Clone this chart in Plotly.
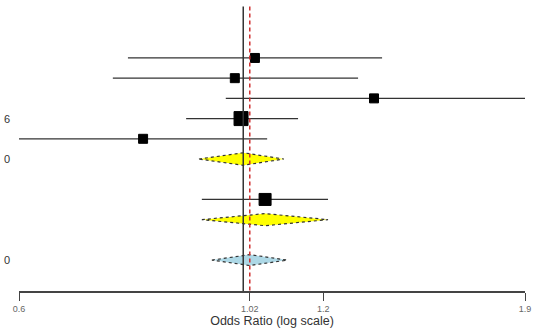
import plotly.graph_objects as go
import math

# Study rows (row index from top)
study_rows = [1, 2, 3, 4, 5, 8]
study_est = [1.027, 0.981, 1.347, 0.995, 0.796, 1.051]
study_lo = [0.769, 0.743, 0.961, 0.878, 0.600, 0.910]
study_hi = [1.372, 1.299, 1.900, 1.133, 1.056, 1.213]
study_size = [9, 9, 9, 14, 9, 12]

# Pooled diamonds
pooled_rows = [6, 9, 11]
pooled_est = [1.000, 1.051, 1.015]
pooled_lo = [0.904, 0.910, 0.931]
pooled_hi = [1.097, 1.213, 1.105]
pooled_half = [0.31, 0.3, 0.27]
pooled_color = ["#FFFF00", "#FFFF00", "#ADD8E6"]

null_value = 1.0
overall_value = 1.015

tick_vals = [0.6, 1.015, 1.2, 1.9]
tick_text = ["0.6", "1.02", "1.2", "1.9"]

left_label_rows = [4, 6, 11]
left_label_text = ["6", "0", "0"]

fig = go.Figure()

# Reference lines
fig.add_shape(type="line", xref="x", yref="y", x0=null_value, x1=null_value,
              y0=-1.55, y1=12.53, line=dict(color="#333333", width=1.5))
fig.add_shape(type="line", xref="x", yref="y", x0=overall_value, x1=overall_value,
              y0=-1.55, y1=12.53, line=dict(color="#D03030", width=1.5, dash="4px,3px"))

# CI lines
cx, cy = [], []
for r, lo, hi in zip(study_rows, study_lo, study_hi):
    cx += [lo, hi, None]
    cy += [r, r, None]
fig.add_trace(go.Scatter(x=cx, y=cy, mode="lines", line=dict(color="#333333", width=1.3),
                         hoverinfo="skip", showlegend=False, cliponaxis=False))

# Squares
fig.add_trace(go.Scatter(x=study_est, y=study_rows, mode="markers",
                         marker=dict(symbol="square", size=study_size, color="#000000",
                                     opacity=1, line=dict(width=1, color="#000000")),
                         showlegend=False, cliponaxis=False))

# Diamonds
for r, e, lo, hi, h, c in zip(pooled_rows, pooled_est, pooled_lo, pooled_hi, pooled_half, pooled_color):
    fig.add_trace(go.Scatter(x=[lo, e, hi, e, lo], y=[r, r - h, r, r + h, r],
                             mode="lines", fill="toself", fillcolor=c,
                             line=dict(color="#333333", width=1.2, dash="dot"),
                             showlegend=False, hoverinfo="skip"))

for r, t in zip(left_label_rows, left_label_text):
    fig.add_annotation(x=-0.033, xref="paper", y=r, yref="y", text=t, showarrow=False,
                       xanchor="left", font=dict(size=11, color="#333333"))

fig.update_layout(
    width=536, height=334,
    margin=dict(l=19, r=11, t=5, b=43),
    paper_bgcolor="white", plot_bgcolor="white",
    font=dict(family="Liberation Sans, Arial, sans-serif"),
    xaxis=dict(type="log", range=[math.log10(0.6), math.log10(1.9)],
               tickvals=tick_vals, ticktext=tick_text,
               ticks="outside", ticklen=8, tickcolor="#444444", tickwidth=1.3,
               showline=True, linecolor="#444444", linewidth=1.5,
               showgrid=False, zeroline=False,
               tickfont=dict(size=9, color="#666666"),
               title=dict(text="Odds Ratio (log scale)", font=dict(size=12.5, color="#333333"),
                          standoff=4)),
    yaxis=dict(range=[12.53, -1.62], visible=False, showgrid=False, zeroline=False),
)

fig.write_html("out.html")
